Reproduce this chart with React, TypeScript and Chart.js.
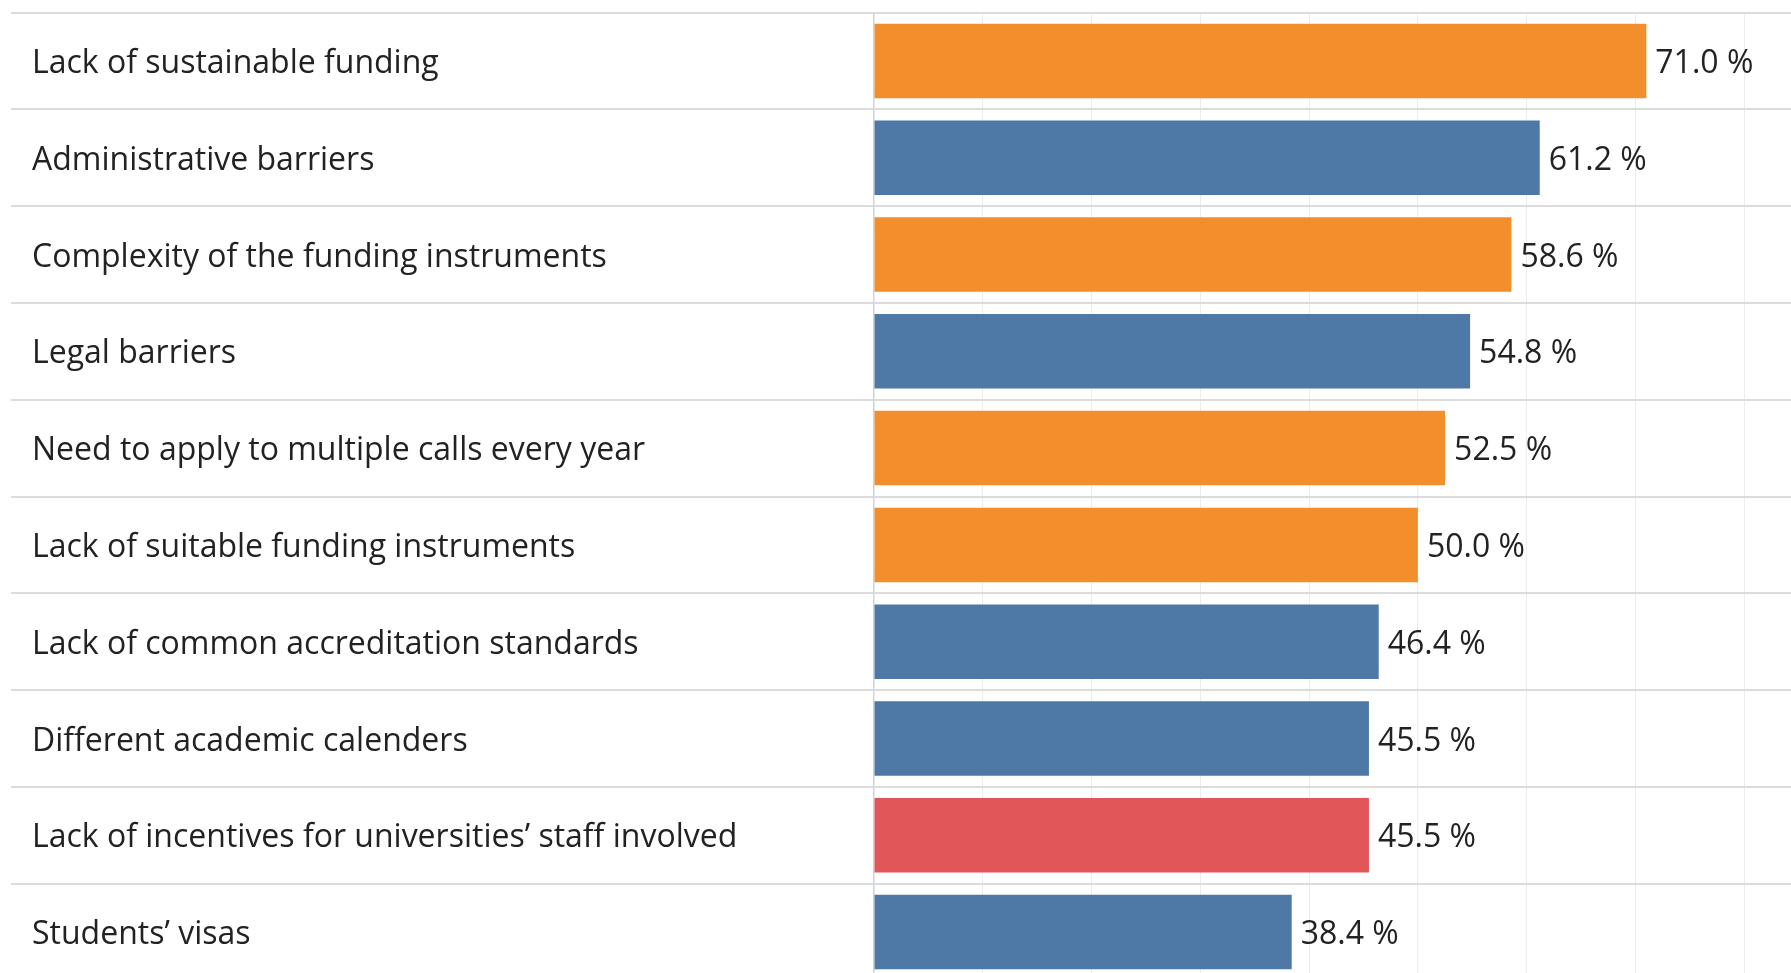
import React, { useEffect, useRef } from "react";
import { Chart, registerables } from "chart.js";

Chart.register(...registerables);

// ---- data ----
const categories: string[] = [
  "Lack of sustainable funding",
  "Administrative barriers",
  "Complexity of the funding instruments",
  "Legal barriers",
  "Need to apply to multiple calls every year",
  "Lack of suitable funding instruments",
  "Lack of common accreditation standards",
  "Different academic calenders",
  "Lack of incentives for universities\u2019 staff involved",
  "Students\u2019 visas",
];
const values: number[] = [71.0, 61.2, 58.6, 54.8, 52.5, 50.0, 46.4, 45.5, 45.5, 38.4];
const barColors: string[] = [
  "#F28E2B", "#4E79A7", "#F28E2B", "#4E79A7", "#F28E2B",
  "#F28E2B", "#4E79A7", "#4E79A7", "#E15759", "#4E79A7",
];
const xMin = 0;
const xMax = 84.3;
const xStep = 10;

// ---- layout ----
const W = 1791;
const H = 973;
const CANVAS_H = 982;
const LABEL_LEFT = 32;
const SEP_LEFT = 11;
const AXIS_X = 874;
const FONT_FAMILY = "'Open Sans', sans-serif";
const FONT_SIZE = 32;
const TEXT_COLOR = "#222222";

const valueLabels = {
  id: "valueLabels",
  afterDatasetsDraw(chart: any) {
    const ctx = chart.ctx;
    const meta = chart.getDatasetMeta(0);
    ctx.save();
    ctx.font = `${FONT_SIZE}px ${FONT_FAMILY}`;
    ctx.fillStyle = TEXT_COLOR;
    ctx.textBaseline = "middle";
    ctx.textAlign = "left";
    meta.data.forEach((bar: any, i: number) => {
      const v = chart.data.datasets[0].data[i] as number;
      ctx.fillText(v.toFixed(1) + " %", bar.x + 9, bar.y + 3);
    });
    ctx.restore();
  },
};

export default function App() {
  const ref = useRef<HTMLCanvasElement | null>(null);

  useEffect(() => {
    if (!ref.current) return;
    const chart = new Chart(ref.current, {
      type: "bar",
      data: {
        labels: categories,
        datasets: [
          {
            data: values,
            backgroundColor: barColors,
            barPercentage: 0.77,
            categoryPercentage: 1,
          },
        ],
      },
      options: {
        indexAxis: "y",
        responsive: false,
        animation: false,
        layout: { padding: { left: LABEL_LEFT, right: 0, top: 12.5, bottom: 1.5 } },
        plugins: {
          legend: { display: false },
          tooltip: { enabled: false },
        },
        scales: {
          x: {
            min: xMin,
            max: xMax,
            ticks: { display: false, stepSize: xStep, includeBounds: false },
            grid: {
              color: (c: any) => (c.tick && c.tick.value === 0 ? "rgba(0,0,0,0)" : "#ececec"),
              lineWidth: 1,
              drawTicks: false,
            },
            border: { display: false },
            afterFit(scale: any) {
              scale.height = 0;
              scale.paddingLeft = 0;
              scale.paddingRight = 0;
            },
          },
          y: {
            afterFit(scale: any) {
              scale.width = AXIS_X - LABEL_LEFT;
              scale.paddingTop = 0;
              scale.paddingBottom = 0;
            },
            ticks: {
              crossAlign: "far",
              labelOffset: 3,
              color: TEXT_COLOR,
              font: { family: FONT_FAMILY, size: FONT_SIZE },
            },
            grid: {
              color: "#dcdcdc",
              lineWidth: 2,
              drawTicks: true,
              tickLength: AXIS_X - SEP_LEFT,
            },
            border: { display: true, color: "#c9d4e0", width: 1.5 },
          },
        },
      },
      plugins: [valueLabels],
    } as any);
    return () => chart.destroy();
  }, []);

  return (
    <div
      style={{
        position: "absolute",
        left: 0,
        top: 0,
        width: W,
        height: H,
        overflow: "hidden",
        background: "#ffffff",
      }}
    >
      <canvas ref={ref} width={W} height={CANVAS_H} style={{ width: W, height: CANVAS_H, display: "block" }} />
    </div>
  );
}
